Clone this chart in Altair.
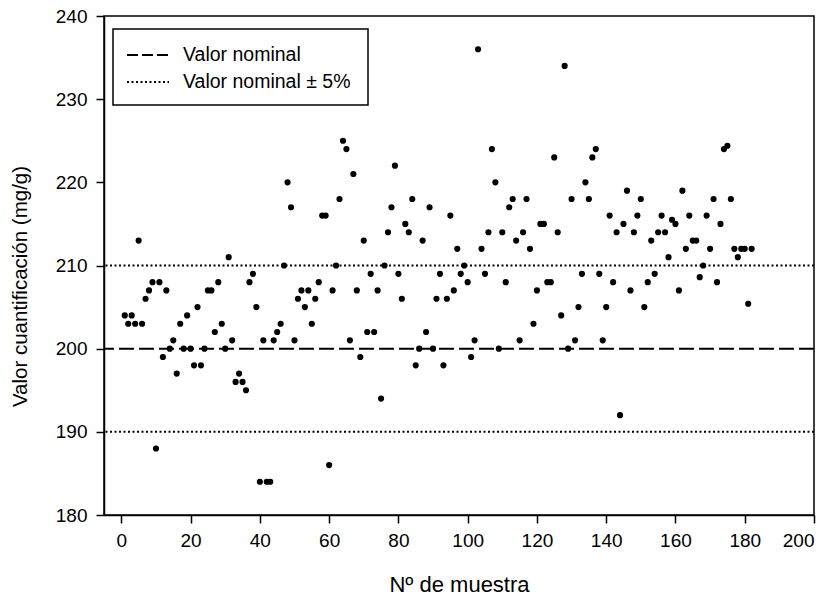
import altair as alt
import pandas as pd

# ---- data ----
muestra = list(range(1, 183))
valores = [
    204, 203, 204, 203, 213, 203, 206, 207, 208, 188,
    208, 199, 207, 200, 201, 197, 203, 200, 204, 200,
    198, 205, 198, 200, 207, 207, 202, 208, 203, 200,
    211, 201, 196, 197, 196, 195, 208, 209, 205, 184,
    201, 184, 184, 201, 202, 203, 210, 220, 217, 201,
    206, 207, 205, 207, 203, 206, 208, 216, 216, 186,
    207, 210, 218, 225, 224, 201, 221, 207, 199, 213,
    202, 209, 202, 207, 194, 210, 214, 217, 222, 209,
    206, 215, 214, 218, 198, 200, 213, 202, 217, 200,
    206, 209, 198, 206, 216, 207, 212, 209, 210, 208,
    199, 201, 236, 212, 209, 214, 224, 220, 200, 214,
    208, 217, 218, 213, 201, 214, 218, 212, 203, 207,
    215, 215, 208, 208, 223, 214, 204, 234, 200, 218,
    201, 205, 209, 220, 218, 223, 224, 209, 201, 205,
    216, 208, 214, 192, 215, 219, 207, 214, 216, 218,
    205, 208, 213, 209, 214, 216, 214, 211, 215.5, 215,
    207, 219, 212, 216, 213, 213, 208.6, 210, 216, 212,
    218, 208, 215, 224, 224.4, 218, 212, 211, 212, 212,
    205.4, 212,
]
nominal = [200]
limites = [190, 210]
etiquetas = ["Valor nominal", "Valor nominal ± 5%"]
x_ticks = list(range(0, 201, 20))
y_ticks = list(range(180, 241, 10))

df_pts = pd.DataFrame({"muestra": muestra, "valor": valores})
df_nom = pd.DataFrame({"valor": nominal})
df_lim = pd.DataFrame({"valor": limites})
one = pd.DataFrame({"k": [0]})

FONT = "Liberation Sans"
DASH = [15, 5]
DOT = [2, 2.5]

y_scale = alt.Scale(domain=[180, 240], nice=False, zero=False)
x_scale = alt.Scale(domain=[-5, 200], nice=False, zero=False)

y_axis = alt.Axis(
    values=y_ticks, title="Valor cuantificación (mg/g)", grid=False,
    domainColor="black", domainWidth=1.5, tickColor="black", tickWidth=1.5,
    tickSize=8, labelFont=FONT, labelFontSize=19, labelColor="black",
    labelPadding=9, titleFont=FONT, titleFontSize=20.5, titleFontWeight="normal",
    titleColor="black", titleX=-84, titleY=270, titleAngle=270,
    titleAlign="center", titleBaseline="middle",
)
x_axis = alt.Axis(
    values=x_ticks, title="Nº de muestra", grid=False,
    domainColor="black", domainWidth=1.5, tickColor="black", tickWidth=1.5,
    tickSize=8, labelFont=FONT, labelFontSize=19, labelColor="black",
    labelPadding=8, titleFont=FONT, titleFontSize=22, titleFontWeight="normal",
    titleColor="black", titleY=76, titleBaseline="alphabetic",
)

puntos = alt.Chart(df_pts).mark_circle(color="black", opacity=1, size=38).encode(
    x=alt.X("muestra:Q", scale=x_scale, axis=x_axis),
    y=alt.Y("valor:Q", scale=y_scale, axis=y_axis),
)

linea_nom = alt.Chart(df_nom).mark_rule(color="black", strokeWidth=2, strokeDash=DASH).encode(
    y=alt.Y("valor:Q", scale=y_scale)
)
linea_lim = alt.Chart(df_lim).mark_rule(color="black", strokeWidth=2, strokeDash=DOT).encode(
    y=alt.Y("valor:Q", scale=y_scale)
)

# legend box (decoration inside the plot area)
caja = alt.Chart(one).mark_rect(fill="white", stroke="black", strokeWidth=1.5).encode(
    x=alt.value(9), x2=alt.value(264), y=alt.value(13), y2=alt.value(89)
)
muestra_nom = alt.Chart(one).mark_rule(color="black", strokeWidth=2, strokeDash=[11, 4]).encode(
    x=alt.value(23), x2=alt.value(65), y=alt.value(39)
)
muestra_lim = alt.Chart(one).mark_rule(color="black", strokeWidth=2, strokeDash=DOT).encode(
    x=alt.value(23), x2=alt.value(65), y=alt.value(66)
)
texto_nom = alt.Chart(one).mark_text(
    align="left", baseline="middle", font=FONT, fontSize=19.5, color="black"
).encode(x=alt.value(79), y=alt.value(39), text=alt.value(etiquetas[0]))
texto_lim = alt.Chart(one).mark_text(
    align="left", baseline="middle", font=FONT, fontSize=19.5, color="black"
).encode(x=alt.value(79), y=alt.value(66), text=alt.value(etiquetas[1]))

chart = alt.layer(
    linea_nom, linea_lim, puntos, caja, muestra_nom, muestra_lim, texto_nom, texto_lim
).properties(
    width=710, height=499,
    autosize=alt.AutoSizeParams(type="none"),
    padding={"left": 104, "top": 16, "right": 22, "bottom": 86},
    background="white",
).configure_view(stroke="black", strokeWidth=1.5)

chart.save("out.html", embed_options={"renderer": "svg", "actions": False})
